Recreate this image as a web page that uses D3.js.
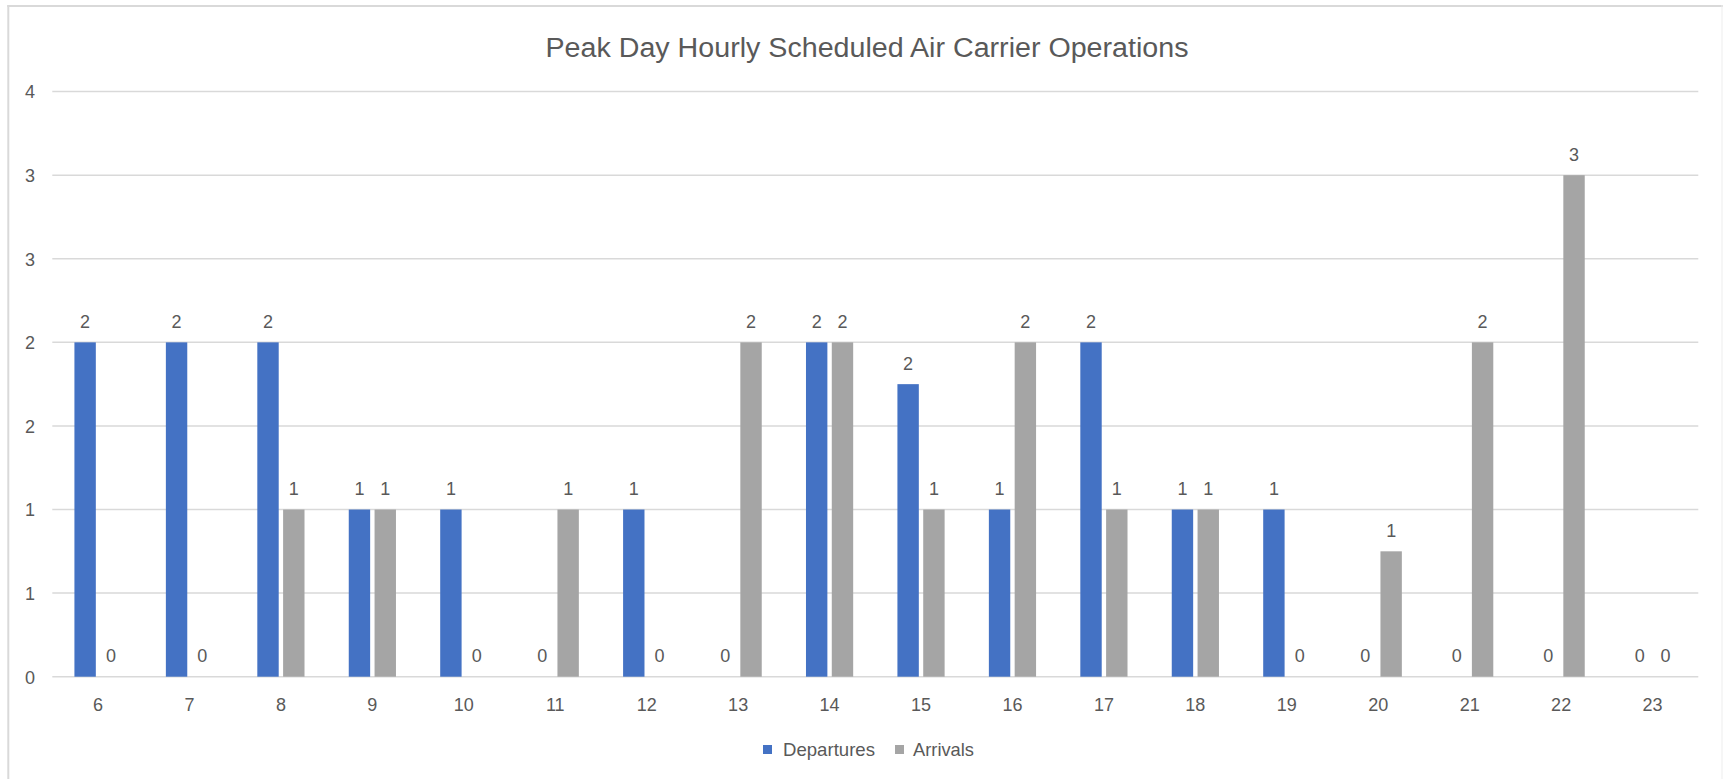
<!DOCTYPE html>
<html>
<head>
<meta charset="utf-8">
<script src="https://cdn.jsdelivr.net/npm/d3@7"></script>
<style>
  html, body { margin: 0; padding: 0; background: #fff; }
  svg { display: block; }
  text { font-family: "Liberation Sans", Arial, sans-serif; fill: #595959; }
</style>
</head>
<body>
<svg id="chart" width="1723" height="779"></svg>
<script>
const title = "Peak Day Hourly Scheduled Air Carrier Operations";
const hours = ["6","7","8","9","10","11","12","13","14","15","16","17","18","19","20","21","22","23"];
const departures = [2, 2, 2, 1, 1, 0, 1, 0, 2, 1.75, 1, 2, 1, 1, 0, 0, 0, 0];
const arrivals   = [0, 0, 1, 1, 0, 1, 0, 2, 2, 1, 2, 1, 1, 0, 0.75, 2, 3, 0];
const seriesNames = ["Departures", "Arrivals"];
const seriesColors = ["#4472C4", "#A5A5A5"];
const yTickValues = [0, 0.5, 1, 1.5, 2, 2.5, 3, 3.5];
const yTickLabels = ["0", "1", "1", "2", "2", "3", "3", "4"];

const svg = d3.select("#chart");
const W = 1723, H = 779;
const plot = { left: 52.3, right: 1698.3, top: 91.6, bottom: 676.7 };

// chart border
svg.append("line").attr("x1", 8.3).attr("x2", 8.3).attr("y1", 5).attr("y2", H)
  .attr("stroke", "#D9D9D9").attr("stroke-width", 2);
svg.append("line").attr("x1", 7.3).attr("x2", W).attr("y1", 6).attr("y2", 6)
  .attr("stroke", "#D9D9D9").attr("stroke-width", 2);
svg.append("line").attr("x1", 1722).attr("x2", 1722).attr("y1", 5).attr("y2", H)
  .attr("stroke", "#EDEDED").attr("stroke-width", 1);

const x = d3.scaleBand().domain(hours).range([plot.left, plot.right]).paddingInner(0).paddingOuter(0);
const y = d3.scaleLinear().domain([0, 3.5]).range([plot.bottom, plot.top]);

const barW = 21.4, innerGap = 4.4;
const sub = d3.scaleOrdinal().domain(seriesNames).range([-innerGap / 2 - barW, innerGap / 2]);

// gridlines
svg.append("g").selectAll("line").data(yTickValues).join("line")
  .attr("x1", plot.left).attr("x2", plot.right)
  .attr("y1", d => y(d)).attr("y2", d => y(d))
  .attr("stroke", "#D9D9D9").attr("stroke-width", 1.5);

// y axis labels
const yAxis = d3.axisLeft(y).tickValues(yTickValues)
  .tickFormat((d, i) => yTickLabels[i]).tickSize(0).tickPadding(0);
const gy = svg.append("g").attr("transform", "translate(35,0)").call(yAxis);
gy.select(".domain").remove();
gy.selectAll("text").attr("font-size", 18).attr("fill", "#595959")
  .style("font-family", '"Liberation Sans", Arial, sans-serif').attr("dy", "0.35em");

// x axis labels
const xAxis = d3.axisBottom(x).tickSize(0).tickPadding(0);
const gx = svg.append("g").attr("transform", `translate(0,${plot.bottom})`).call(xAxis);
gx.select(".domain").remove();
gx.selectAll("text").attr("font-size", 18).attr("fill", "#595959")
  .style("font-family", '"Liberation Sans", Arial, sans-serif').attr("dy", null).attr("y", 34);

// bars
const series = [departures, arrivals];
const fmt = d3.format(".0f");
series.forEach((vals, si) => {
  const name = seriesNames[si];
  const g = svg.append("g");
  const data = hours.map((h, i) => ({ h, v: vals[i] }));
  g.selectAll("rect").data(data).join("rect")
    .attr("x", d => x(d.h) + x.bandwidth() / 2 + sub(name))
    .attr("width", barW)
    .attr("y", d => y(d.v))
    .attr("height", d => y(0) - y(d.v))
    .attr("fill", seriesColors[si]);
  g.selectAll("text").data(data).join("text")
    .attr("x", d => x(d.h) + x.bandwidth() / 2 + sub(name) + barW / 2)
    .attr("y", d => y(d.v) - 14.5)
    .attr("text-anchor", "middle")
    .attr("font-size", 18)
    .text(d => fmt(d.v));
});

// title
svg.append("text").attr("x", 867).attr("y", 57)
  .attr("text-anchor", "middle").attr("font-size", 27)
  .attr("textLength", 643).attr("lengthAdjust", "spacingAndGlyphs")
  .text(title);

// legend
const legendItems = [
  { name: seriesNames[0], color: seriesColors[0], sx: 763, tx: 783, w: 92 },
  { name: seriesNames[1], color: seriesColors[1], sx: 895, tx: 913, w: 61 }
];
const lg = svg.append("g");
lg.selectAll("rect").data(legendItems).join("rect")
  .attr("x", d => d.sx).attr("y", 745).attr("width", 9).attr("height", 9)
  .attr("fill", d => d.color);
lg.selectAll("text").data(legendItems).join("text")
  .attr("x", d => d.tx).attr("y", 756)
  .attr("font-size", 18.5)
  .attr("textLength", d => d.w).attr("lengthAdjust", "spacingAndGlyphs")
  .text(d => d.name);
</script>
</body>
</html>
